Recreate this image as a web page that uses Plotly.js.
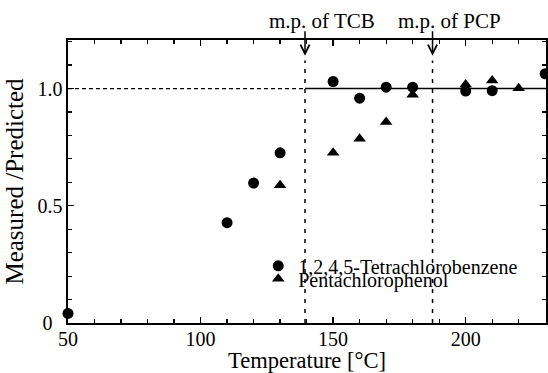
<!DOCTYPE html>
<html>
<head>
<meta charset="utf-8">
<script src="https://cdn.plot.ly/plotly-3.0.1.min.js"></script>
<style>html,body{margin:0;padding:0;background:#fff;}#chart{width:548px;height:373px;}</style>
</head>
<body>
<div id="chart"></div>
<script>
// Data
const tcbTemp = [50, 110, 120, 130, 150, 160, 170, 180, 200, 210, 230];
const tcbRatio = [0.041, 0.428, 0.597, 0.726, 1.03, 0.959, 1.006, 1.006, 0.989, 0.991, 1.063];
const pcpTemp = [130, 150, 160, 170, 180, 200, 210, 220];
const pcpRatio = [0.587, 0.726, 0.786, 0.857, 0.973, 1.017, 1.034, 1.001];
const seriesNames = ["1,2,4,5-Tetrachlorobenzene", "Pentachlorophenol"];
const mpTCB = 139.4;
const mpPCP = 187.5;
const mpLabels = ["m.p. of TCB", "m.p. of PCP"];
const refRatio = 1.0;
const xTickVals = [50, 100, 150, 200];
const xTickText = ["50", "100", "150", "200"];
const yTickVals = [0, 0.5, 1.0];
const yTickText = ["0&nbsp;&nbsp;", "0.5", "1.0"];

const serif = "Liberation Serif, Times New Roman, serif";
const xMin = 50, xMax = 230.3, yMin = 0, yMax = 1.207;

const traces = [
  {x: tcbTemp, y: tcbRatio, name: seriesNames[0], type: "scatter", mode: "markers",
   marker: {symbol: "circle", size: 11, color: "#000"}, cliponaxis: false, legend: "legend"},
  {x: pcpTemp, y: pcpRatio, name: seriesNames[1], type: "scatter", mode: "markers",
   marker: {symbol: "triangle-up", size: 11, color: "#000"}, cliponaxis: false, legend: "legend2"}
];

const axisCommon = {
  showgrid: false, zeroline: false, showline: true, linecolor: "#000", linewidth: 1.6,
  mirror: "allticks", ticks: "inside", ticklen: 6, tickwidth: 1.3, tickcolor: "#000",
  tickfont: {family: serif, size: 20, color: "#000"},
  minor: {ticks: "inside", ticklen: 4, tickwidth: 1.2, tickcolor: "#000"}
};

const legendCommon = {
  bgcolor: "rgba(0,0,0,0)", borderwidth: 0, xanchor: "left", yanchor: "middle",
  font: {family: serif, size: 20, color: "#000"}, itemwidth: 30, tracegroupgap: 0
};

const layout = {
  width: 548, height: 373,
  margin: {l: 68, r: 2, t: 40, b: 50},
  paper_bgcolor: "#fff", plot_bgcolor: "#fff",
  showlegend: true,
  xaxis: Object.assign({}, axisCommon, {
    range: [xMin, xMax], tickmode: "array", tickvals: xTickVals, ticktext: xTickText,
    ticklabelstandoff: -3,
    minor: Object.assign({}, axisCommon.minor, {dtick: 10, tick0: 50}),
    title: {text: "Temperature [°C]", font: {family: serif, size: 22.5, color: "#000"}, standoff: 0}
  }),
  yaxis: Object.assign({}, axisCommon, {
    range: [yMin, yMax], tickmode: "array", tickvals: yTickVals, ticktext: yTickText,
    minor: Object.assign({}, axisCommon.minor, {dtick: 0.1, tick0: 0}),
    title: {text: "Measured /Predicted", font: {family: serif, size: 25, color: "#000"}, standoff: 6}
  }),
  legend: Object.assign({}, legendCommon, {x: 0.398, y: 0.202}),
  legend2: Object.assign({}, legendCommon, {x: 0.398, y: 0.156}),
  shapes: [
    {type: "line", xref: "x", yref: "y", x0: xMin, x1: mpTCB, y0: refRatio, y1: refRatio,
     line: {color: "#000", width: 1.2, dash: "4px,3px"}},
    {type: "line", xref: "x", yref: "y", x0: mpTCB, x1: xMax, y0: refRatio, y1: refRatio,
     line: {color: "#000", width: 1.5}},
    {type: "line", xref: "x", yref: "y", x0: mpTCB, x1: mpTCB, y0: 0, y1: 1.12,
     line: {color: "#000", width: 1.5, dash: "4px,6px"}},
    {type: "line", xref: "x", yref: "y", x0: mpPCP, x1: mpPCP, y0: 0, y1: 1.12,
     line: {color: "#000", width: 1.5, dash: "4px,6px"}}
  ],
  annotations: [
    {x: mpTCB, y: 1.14, xref: "x", yref: "y", text: "", showarrow: true, ax: 0, ay: -26,
     arrowhead: 5, arrowsize: 1.2, arrowwidth: 1.5, arrowcolor: "#000"},
    {x: mpPCP, y: 1.14, xref: "x", yref: "y", text: "", showarrow: true, ax: 0, ay: -26,
     arrowhead: 5, arrowsize: 1.2, arrowwidth: 1.5, arrowcolor: "#000"},
    {x: mpTCB + 6.3, y: 1.066, xref: "x", yref: "paper", yanchor: "middle", text: mpLabels[0], showarrow: false,
     font: {family: serif, size: 21, color: "#000"}},
    {x: mpPCP + 6.3, y: 1.066, xref: "x", yref: "paper", yanchor: "middle", text: mpLabels[1], showarrow: false,
     font: {family: serif, size: 21, color: "#000"}}
  ]
};

Plotly.newPlot("chart", traces, layout, {displayModeBar: false, staticPlot: true});
</script>
</body>
</html>
